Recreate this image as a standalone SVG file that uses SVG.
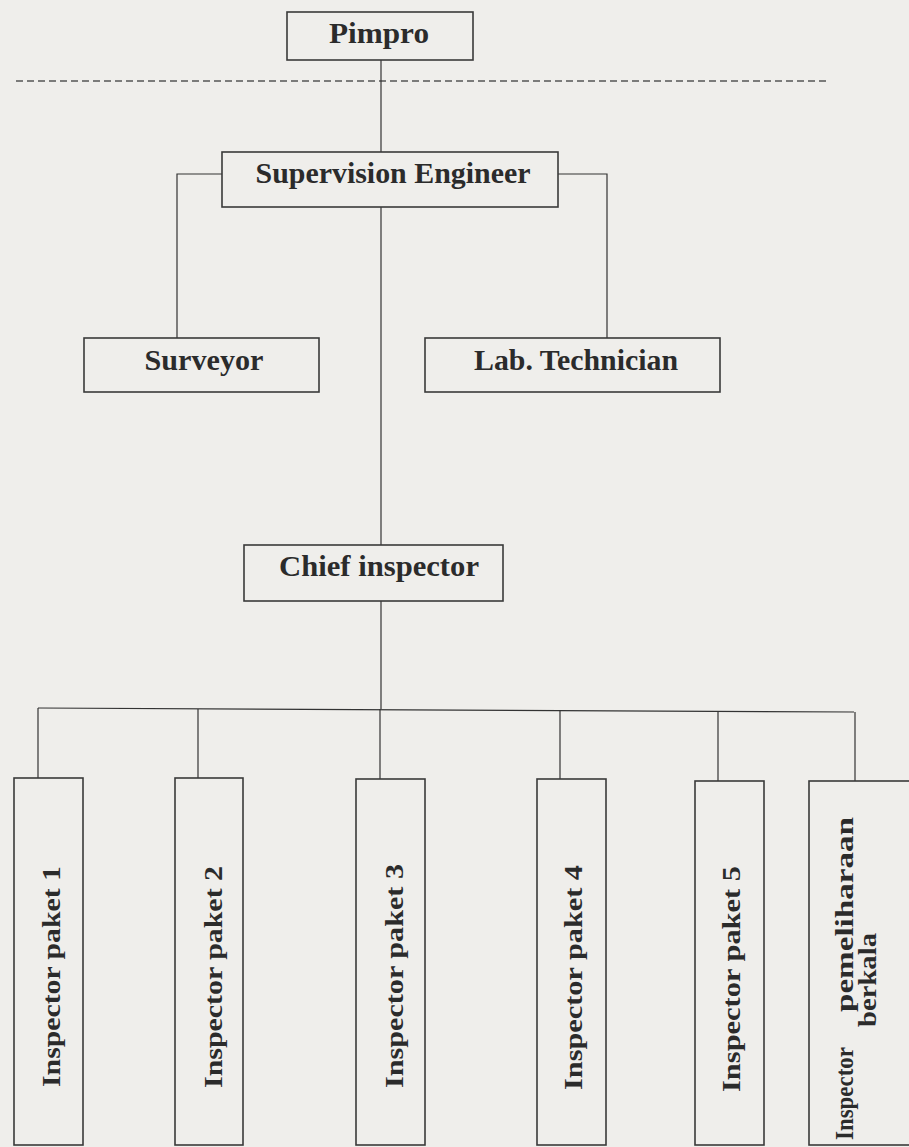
<svg xmlns="http://www.w3.org/2000/svg" width="909" height="1147" viewBox="0 0 909 1147">
<style>
.bg{fill:#efeeeb}
.box{fill:none;stroke:#3a3a3a;stroke-width:1.6}
.ln{fill:none;stroke:#333;stroke-width:1.2}
.dash{fill:none;stroke:#555;stroke-width:1.3;stroke-dasharray:7 4}
.t{font-family:"Liberation Serif","Times New Roman",serif;font-weight:bold;font-size:29px;fill:#2b2b2b;text-anchor:middle}
.v{font-family:"Liberation Serif","Times New Roman",serif;font-weight:bold;font-size:25px;fill:#2b2b2b;text-anchor:middle}
</style>
<rect class="bg" x="0" y="0" width="909" height="1147"/>
<line class="dash" x1="16" y1="81" x2="829" y2="81"/>
<g id="connectors">
<path class="ln" d="M381 60 V152"/>
<path class="ln" d="M381 207 V545"/>
<path class="ln" d="M222 174 H177 V338"/>
<path class="ln" d="M558 174 H607 V338"/>
<path class="ln" d="M381 601 V709"/>
<path class="ln" d="M38 708 L854 712"/>
<path class="ln" d="M38 708 V778"/>
<path class="ln" d="M198 709 V778"/>
<path class="ln" d="M380 709 V779"/>
<path class="ln" d="M560 710 V779"/>
<path class="ln" d="M718 711 V781"/>
<path class="ln" d="M855 712 V781"/>
</g>
<g id="pimpro"><rect class="box" x="287" y="12" width="186" height="48"/><text class="t" x="379" y="43" textLength="100" lengthAdjust="spacingAndGlyphs">Pimpro</text></g>
<g id="supervision-engineer"><rect class="box" x="222" y="152" width="336" height="55"/><text class="t" x="393" y="183" textLength="275" lengthAdjust="spacingAndGlyphs">Supervision Engineer</text></g>
<g id="surveyor"><rect class="box" x="84" y="338" width="235" height="54"/><text class="t" x="204" y="370" textLength="119" lengthAdjust="spacingAndGlyphs">Surveyor</text></g>
<g id="lab-technician"><rect class="box" x="425" y="338" width="295" height="54"/><text class="t" x="576" y="370" textLength="204" lengthAdjust="spacingAndGlyphs">Lab. Technician</text></g>
<g id="chief-inspector"><rect class="box" x="244" y="545" width="259" height="56"/><text class="t" x="379" y="576" textLength="200" lengthAdjust="spacingAndGlyphs">Chief inspector</text></g>
<g id="inspector-1"><rect class="box" x="14" y="778" width="69" height="367"/><text class="v" transform="translate(59.5 976.5) rotate(-90)" textLength="221" lengthAdjust="spacingAndGlyphs">Inspector paket 1</text></g>
<g id="inspector-2"><rect class="box" x="175" y="778" width="68" height="367"/><text class="v" transform="translate(221.5 977) rotate(-90)" textLength="222" lengthAdjust="spacingAndGlyphs">Inspector paket 2</text></g>
<g id="inspector-3"><rect class="box" x="356" y="779" width="69" height="366"/><text class="v" transform="translate(402.5 976) rotate(-90)" textLength="224" lengthAdjust="spacingAndGlyphs">Inspector paket 3</text></g>
<g id="inspector-4"><rect class="box" x="537" y="779" width="69" height="366"/><text class="v" transform="translate(582 977.5) rotate(-90)" textLength="225" lengthAdjust="spacingAndGlyphs">Inspector paket 4</text></g>
<g id="inspector-5"><rect class="box" x="695" y="781" width="69" height="364"/><text class="v" transform="translate(740 979) rotate(-90)" textLength="226" lengthAdjust="spacingAndGlyphs">Inspector paket 5</text></g>
<g id="inspector-pemeliharaan"><rect class="box" x="809" y="781" width="110" height="364"/>
<text class="v" transform="translate(853 1093.5) rotate(-90)" textLength="93" lengthAdjust="spacingAndGlyphs">Inspector</text>
<text class="v" transform="translate(853 914.5) rotate(-90)" textLength="195" lengthAdjust="spacingAndGlyphs">pemeliharaan</text>
<text class="v" transform="translate(876 980) rotate(-90)" textLength="94" lengthAdjust="spacingAndGlyphs">berkala</text>
</g>
</svg>
